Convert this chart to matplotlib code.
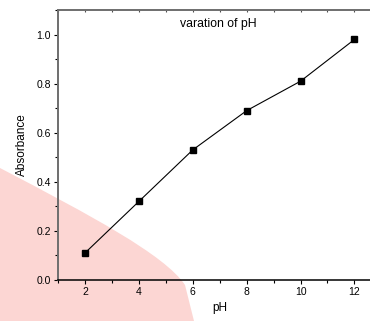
import numpy as np
import matplotlib
matplotlib.use("Agg")
from matplotlib import pyplot as plt
from matplotlib.path import Path
from matplotlib.patches import PathPatch
from matplotlib.ticker import MultipleLocator

# data
ph = [2, 4, 6, 8, 10, 12]
absorbance = [0.11, 0.32, 0.53, 0.69, 0.81, 0.98]
title_text = "varation of pH"

plt.rcParams['font.family'] = ['Liberation Sans', 'DejaVu Sans']

W, H = 370, 321
fig = plt.figure(figsize=(W / 100, H / 100), dpi=100)
fig.patch.set_facecolor('white')

# pink smear in the lower left corner of the scan (figure pixels, y from top)
verts = [(0, 168), (90, 215), (165, 255), (185, 285), (194, 321), (0, 321), (0, 168)]
verts = [(x / W, 1 - y / H) for x, y in verts]
codes = [Path.MOVETO, Path.CURVE4, Path.CURVE4, Path.CURVE4,
         Path.LINETO, Path.LINETO, Path.CLOSEPOLY]
blob = PathPatch(Path(verts, codes), transform=fig.transFigure,
                 facecolor='#fcd6d3', edgecolor='none', zorder=-5)
fig.patches.append(blob)

ax = fig.add_axes([58 / W, 41 / H, 323.4 / W, 270 / H])
ax.set_facecolor('none')

ax.plot(ph, absorbance, color='black', lw=0.8, marker='s', ms=5, mec='black', mfc='black')

ax.set_xlim(1, 13)
ax.set_ylim(0, 1.1)
ax.xaxis.set_major_locator(MultipleLocator(2))
ax.xaxis.set_minor_locator(MultipleLocator(1))
ax.yaxis.set_major_locator(MultipleLocator(0.2))
ax.yaxis.set_minor_locator(MultipleLocator(0.1))
ax.yaxis.set_major_formatter(plt.FormatStrFormatter('%.1f'))

ax.tick_params(axis='both', which='major', direction='out', length=3, width=0.8,
               labelsize=7.5, pad=2, color='black')
ax.tick_params(axis='both', which='minor', direction='out', length=2, width=0.8)
# tiny inward ticks on the top spine
ax2 = ax.secondary_xaxis('top')
ax2.xaxis.set_major_locator(MultipleLocator(2))
ax2.xaxis.set_minor_locator(MultipleLocator(1))
ax2.tick_params(which='both', direction='in', length=1.5, width=0.8, labeltop=False, color='#505050')
ax2.spines['top'].set_visible(False)

for s in ['left', 'top']:
    ax.spines[s].set_color('#6e6e6e')
    ax.spines[s].set_linewidth(1.4)
ax.spines['bottom'].set_color('black')
ax.spines['bottom'].set_linewidth(1.1)
ax.spines['right'].set_visible(False)

ax.set_xlabel('pH', fontsize=8.5, labelpad=4)
ax.set_ylabel('Absorbance', fontsize=8.5, labelpad=6)
ax.text(5.53, 1.045, title_text, fontsize=8.8, ha='left', va='center')

fig.savefig('out.png', dpi=100)
